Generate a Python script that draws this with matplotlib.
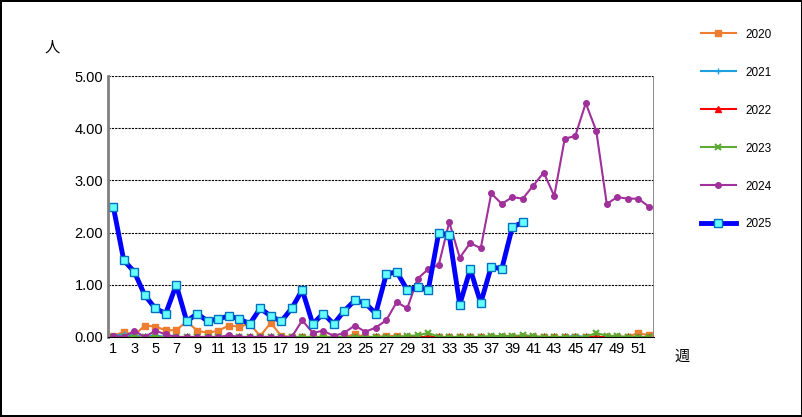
import matplotlib
matplotlib.use("Agg")
import matplotlib.pyplot as plt
import numpy as np
plt.rcParams['font.family'] = ['Liberation Sans', 'Noto Sans CJK JP', 'DejaVu Sans']

weeks = list(range(1, 53))
s2020 = [0.02,0.1,0.03,0.22,0.2,0.13,0.13,0.3,0.12,0.08,0.12,0.22,0.2,0.25,0.02,0.27,0.02,0,0,0,0,0,0,0.05,0,0,0.02,0.02,0,0,0,0,0,0,0,0,0,0,0,0,0,0,0,0,0,0,0,0,0,0,0.08,0.03]
s2021 = [0.02,0.05,0.03,0,0.03,0,0,0,0,0,0,0,0,0,0,0,0,0,0,0,0,0,0,0,0,0,0,0,0,0,0,0,0,0,0,0,0,0,0,0,0,0,0,0,0.02,0,0,0,0,0,0,0]
s2022 = [0]*52
s2023 = [0,0,0,0,0,0,0,0,0,0,0,0,0,0,0,0,0,0,0,0,0,0,0,0,0,0,0,0,0.02,0.03,0.08,0,0,0,0,0,0.02,0.02,0.02,0.03,0.02,0,0,0,0,0,0.08,0.02,0.02,0,0,0]
s2024 = [0.02,0,0.12,0,0.12,0.05,0,0,0,0,0,0.03,0,0,0,0,0,0,0.32,0.08,0.12,0.02,0.08,0.22,0.1,0.18,0.32,0.67,0.55,1.12,1.3,1.38,2.2,1.52,1.8,1.7,2.75,2.55,2.68,2.65,2.9,3.15,2.7,3.8,3.85,4.48,3.95,2.55,2.68,2.65,2.65,2.5]
s2025 = [2.5,1.47,1.25,0.8,0.55,0.45,1.0,0.3,0.45,0.3,0.35,0.4,0.35,0.25,0.55,0.4,0.3,0.55,0.9,0.25,0.45,0.25,0.5,0.7,0.65,0.45,1.2,1.25,0.9,0.95,0.9,2.0,1.95,0.62,1.3,0.65,1.35,1.3,2.1,2.2]

fig = plt.figure(figsize=(8.03, 4.17), dpi=100)
fig.patch.set_edgecolor('black'); fig.patch.set_linewidth(1.5)
ax = fig.add_axes([108/803, 1-337/417, 546/803, 261/417])
ax.plot(weeks, s2020, color='#ED7D31', marker='s', ms=4, lw=1.5, label='2020')
ax.plot(weeks, s2021, color='#1E9FE0', marker='+', ms=4, lw=1.5, label='2021')
ax.plot(weeks, s2022, color='red', marker='^', ms=4, lw=1.5, label='2022')
ax.plot(weeks, s2023, color='#5DAA34', marker='x', ms=5, mew=1.5, lw=1.5, label='2023')
ax.plot(weeks, s2024, color='#A0309A', marker='o', ms=4, lw=1.5, label='2024')
ax.plot(weeks[:len(s2025)], s2025, color='#0000FF', marker='s', ms=6, mfc='#66FFFF', mec='#0070C0', lw=3.5, label='2025')
ax.set_xlim(0.5, 52.5)
ax.set_ylim(0, 5)
ax.set_yticks(np.arange(0, 5.01, 1))
ax.set_yticklabels([f'{v:.2f}' for v in np.arange(0, 5.01, 1)], fontsize=10.5)
ax.set_xticks(range(1, 53))
ax.set_xticklabels([str(w) if w % 2 == 1 else '' for w in weeks], fontsize=10.5)
ax.tick_params(axis='x', length=3, direction='in')
ax.tick_params(axis='y', length=0)
ax.grid(axis='y', color='black', ls=(0, (2, 1)), lw=0.8)
for s in ['top', 'right']:
    ax.spines[s].set_visible(False)
ax.spines['left'].set_color('#808080'); ax.spines['left'].set_linewidth(2)
ax.spines['bottom'].set_color('black')
ax.axvline(52.5, color='#808080', lw=2)
fig.text(52/803, 1-48/417, '人', fontsize=11, ha='center', va='center')
fig.text(682/803, 1-357/417, '週', fontsize=11, ha='center', va='center')
fig.legend(loc='upper left', bbox_to_anchor=(690/803, 1-18/417), frameon=False, fontsize=8.5, labelspacing=2.2, handlelength=3)
fig.savefig('out.png', dpi=100, edgecolor=fig.get_edgecolor())
